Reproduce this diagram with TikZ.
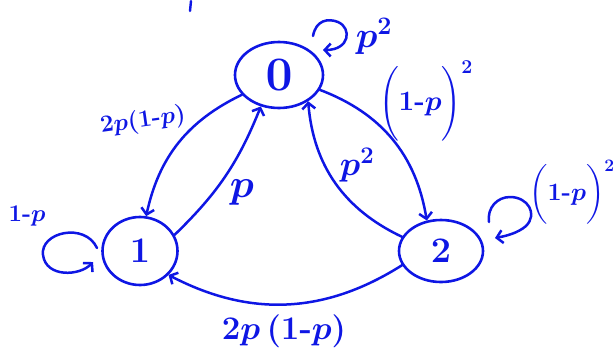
\documentclass[tikz,border=0pt]{standalone}
\usepackage{fix-cm}
\usepackage{amsmath}
\usepackage{tikz}
\usetikzlibrary{positioning}
\usetikzlibrary{shapes}
\usetikzlibrary{arrows, arrows.meta}
\definecolor{ink}{RGB}{14,22,228}
\newcommand{\hy}{\text{\bfseries-}}

\begin{document}
\begin{tikzpicture}[x=1pt, y=1pt, >={Straight Barb[length=6pt, width=13pt]},
    state/.style={
        ellipse, draw=ink,
        line width=2.6pt,
        inner sep=0pt, text=ink,
        font=\fontsize{36}{36}\selectfont\boldmath
    },
    edge/.style={ink, line width=2.5pt, ->, line cap=round},
    lab/.style={text=ink, inner sep=0pt, font=\fontsize{26}{28}\selectfont\boldmath},
    sqlab/.style={text=ink, inner sep=0pt, font=\fontsize{28}{36}\selectfont\boldmath}
]
\useasboundingbox (0,0) rectangle (614,-349);

\node[state, minimum width=88, minimum height=66,
      font=\fontsize{48}{48}\selectfont\boldmath] (n0) at (279,-75) {$0$};
\node[state, minimum width=75, minimum height=68] (n1) at (140,-251) {$1$};
\node[state, minimum width=84, minimum height=62] (n2) at (441,-251) {$2$};

% transitions between states
\draw[edge] (n0.208) to[bend right=26] (n1.80);
\draw[edge] (n1.25) to[bend right=12] (n0.240);
\draw[edge] (n0.340) to[bend left=30] (n2.115);
\draw[edge] (n2.160) to[bend left=30] (n0.318);
\draw[edge] (n2.200) to[bend left=30] (n1.320);

% self loops
\coordinate (l0) at (313,-36);
\coordinate (l1) at (97,-248);
\coordinate (l2) at (489,-222);
\draw[edge] (l0) .. controls (316,-20) and (328,-18) .. (338,-22)
    .. controls (352,-28) and (350,-50) .. (323,-50);
\draw[edge] (l1) .. controls (85,-222) and (40,-232) .. (43,-255)
    .. controls (46,-278) and (80,-276) .. (93,-262);
\draw[edge] (l2) .. controls (487,-208) and (497,-197) .. (510,-197)
    .. controls (528,-197) and (538,-214) .. (526,-226)
    .. controls (518,-233) and (506,-236) .. (495,-238);

% labels
\node[lab, font=\fontsize{36}{36}\selectfont\boldmath] (p0) at (374,-36) {$p^{2}$};
\node[lab, font=\fontsize{24}{26}\selectfont\boldmath, rotate=8] (q01) at (143,-121) {$2p(1\hy p)$};
\node[lab, font=\fontsize{40}{40}\selectfont\boldmath] (q10) at (242,-192) {$p$};
\node[sqlab] (q02) at (426,-101) {$\biggl(1\hy p\biggr)^{2}$};
\node[lab, font=\fontsize{34}{34}\selectfont\boldmath] (q20) at (357,-165) {$p^{2}$};
\node[lab, font=\fontsize{24}{26}\selectfont\boldmath] (p1) at (27,-216) {$1\hy p$};
\node[sqlab, font=\fontsize{25}{36}\selectfont\boldmath] (p2) at (572,-192) {$\biggl(1\hy p\biggr)^{2}$};
\node[lab, font=\fontsize{33}{34}\selectfont\boldmath] (q21) at (284,-331) {$2p\,(1\hy p)$};

\draw[ink, line width=2.4pt, line cap=round] (191,-1) -- (190,-11);
\end{tikzpicture}
\end{document}
